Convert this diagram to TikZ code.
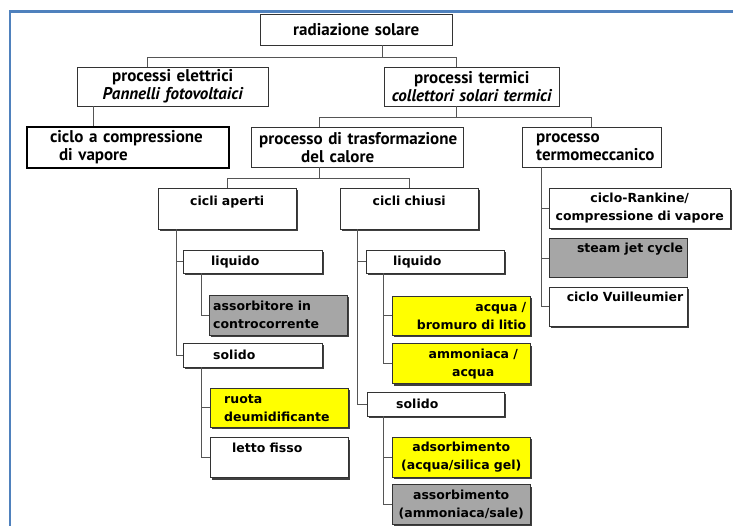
\documentclass[tikz,border=0pt]{standalone}
\usepackage{fontspec}
\setmainfont{DejaVu Sans}
\newfontfamily\headfont{PT Sans}
\usetikzlibrary{positioning}
\usetikzlibrary{shadows}

\definecolor{rulecol}{HTML}{4F81BD}
\definecolor{linkcol}{HTML}{555555}
\definecolor{boxgrey}{HTML}{A6A6A6}
\definecolor{boxyellow}{HTML}{FFFF00}

\tikzset {
  link/.style = {
    draw = linkcol,
    line width = 0.9pt
  },
  % blue frame of the slide
  bluerule/.style = {
    draw = rulecol,
    line width = 2.5pt
  }
}
\tikzset {
  box/.style = {
    draw = black!80,
    fill = white,
    rectangle,
    inner xsep = 4pt,
    inner ysep = 2pt,
    anchor = north west
  },
  % upper levels
  head/.style = {
    box,
    font = \headfont\bfseries\fontsize{17}{18}\selectfont
  },
  % lower levels, no shadow
  plainleaf/.style = {
    box,
    font = \bfseries\fontsize{12.5}{18}\selectfont
  },
  % lower levels, hard shadow
  leaf/.style = {
    plainleaf,
    general shadow = {fill = black!75, shadow xshift = 2pt, shadow yshift = -2pt}
  },
  greyfill/.style = {
    fill = boxgrey
  },
  yellowfill/.style = {
    fill = boxyellow
  },
  % text sitting at the top of a tall box
  toptext/.style 2 args = {
    text height = #1,
    text depth = #2
  }
}

\begin{document}
\begin{tikzpicture}[x = 1pt, y = -1pt]
  \useasboundingbox (0,0) rectangle (733,526);

  \draw[bluerule] (10,526) -- (10,11.5) -- (733,11.5);

  \node[head, text width = 184pt, align = center, minimum height = 31pt] (rad) at (260,14) {radiazione solare};

  \node[head, text width = 183pt, align = center, minimum height = 39pt] (elet) at (77,67)
    {processi elettrici\\\itshape Pannelli fotovoltaici};
  \node[head, text width = 167pt, align = center, minimum height = 39pt] (term) at (384,67)
    {processi termici\\\itshape collettori solari termici};

  \node[head, draw = black, line width = 2pt, text width = 194pt, align = left, minimum height = 41pt] (vapore) at (26,126)
    {\hspace*{19pt}ciclo a compressione\\\hspace*{28pt}di vapore};
  \node[head, text width = 204pt, align = left, minimum height = 40pt] (trasf) at (251,127)
    {\hspace*{4pt}processo di trasformazione\\\hspace*{46pt}del calore};
  \node[head, text width = 131pt, align = left, minimum height = 40pt] (mecc) at (522,127)
    {\hspace*{10pt}processo\\\hspace*{10pt}termomeccanico};

  % open cycles
  \node[leaf, text width = 130pt, align = center, toptext = {15pt}{22pt}] (aperti) at (158,188) {cicli aperti};
  \node[leaf, text width = 131pt, align = left, minimum height = 23pt] (liqA) at (183,250) {\hspace*{24pt}liquido};
  \node[leaf, greyfill, text width = 130pt, align = left, minimum height = 40pt] (contro) at (209,295)
    {assorbitore in\\controcorrente};
  \node[leaf, text width = 131pt, align = left, minimum height = 24pt] (solA) at (183,343) {\hspace*{26pt}solido};
  \node[leaf, yellowfill, text width = 130pt, align = left, minimum height = 39pt] (ruota) at (210,388)
    {\hspace*{10pt}ruota\\\hspace*{10pt}deumidificante};
  \node[leaf, text width = 130pt, align = left, toptext = {13pt}{23pt}] (letto)
    [below = 10pt of ruota.south west, anchor = north west] {\hspace*{18pt}letto fisso};

  % closed cycles
  \node[leaf, text width = 130pt, align = center, toptext = {15pt}{22pt}] (chiusi) at (340,188) {cicli chiusi};
  \node[leaf, text width = 130pt, align = left, minimum height = 23pt] (liqC) at (366,250) {\hspace*{23pt}liquido};
  \node[leaf, yellowfill, text width = 130pt, align = right, minimum height = 39pt] (bromuro) at (392,296)
    {acqua /\hspace*{5pt}\\bromuro di litio};
  \node[leaf, yellowfill, text width = 130pt, align = center, minimum height = 40pt] (ammon)
    [below = 8pt of bromuro.south west, anchor = north west] {\hspace*{24pt}ammoniaca /\\\hspace*{24pt}acqua};
  \node[leaf, text width = 129pt, align = left, minimum height = 24pt] (solC) at (367,392) {\hspace*{25pt}solido};
  \node[leaf, yellowfill, text width = 130pt, align = center, minimum height = 40pt] (silica) at (392,437)
    {adsorbimento\\(acqua/silica gel)};
  \node[leaf, greyfill, text width = 130pt, align = center, minimum height = 40pt] (sale)
    [below = 7pt of silica.south west, anchor = north west] {assorbimento\\(ammoniaca/sale)};

  % thermomechanical
  \node[leaf, text width = 173pt, align = center, minimum height = 40pt] (rankine) at (549,188)
    {ciclo-Rankine/\\compressione di vapore};
  \node[plainleaf, greyfill, text width = 130pt, align = right, toptext = {12pt}{23pt}] (steam)
    [below = 10pt of rankine.south west, anchor = north west] {steam jet cycle};
  \node[leaf, text width = 130pt, align = right, toptext = {13pt}{22pt}] (vuill)
    [below = 9pt of steam.south west, anchor = north west] {ciclo Vuilleumier};

  % forks
  \draw[link] ([xshift = 26pt]rad.south) -- ++(0,12) coordinate (rad-fork);
  \draw[link] ([xshift = -25pt]elet.north) |- (rad-fork) -| ([xshift = -15pt]term.north);

  \draw[link] ([xshift = -15pt]term.south) -- ++(0,11) coordinate (term-fork);
  \draw[link] ([xshift = -38pt]trasf.north) |- (term-fork) -| (mecc.north);

  \draw[link] ([xshift = -38pt]trasf.south) -- ++(0,11) coordinate (trasf-fork);
  \draw[link] (aperti.north) |- (trasf-fork) -| (chiusi.north);

  % side rails
  \draw[link] ([xshift = 16pt]elet.south west) coordinate (elet-rail)
    -- (elet-rail |- vapore.north);

  \draw[link] ([xshift = 18pt]aperti.south west) coordinate (aperti-rail)
    |- (liqA.west)
    (aperti-rail) |- (solA.west);
  \draw[link] ([xshift = 18pt]liqA.south west) coordinate (liqA-rail)
    |- (contro.west);
  \draw[link] ([xshift = 18pt]solA.south west) coordinate (solA-rail)
    |- (ruota.west)
    (solA-rail) |- (letto.west);

  \draw[link] ([xshift = 17pt]chiusi.south west) coordinate (chiusi-rail)
    |- (liqC.west)
    (chiusi-rail) |- (solC.west);
  \draw[link] ([xshift = 17pt]liqC.south west) coordinate (liqC-rail)
    |- (bromuro.west)
    (liqC-rail) |- (ammon.west);
  \draw[link] ([xshift = 16pt]solC.south west) coordinate (solC-rail)
    |- (silica.west)
    (solC-rail) |- (sale.west);

  \draw[link] ([xshift = 19pt]mecc.south west) coordinate (mecc-rail)
    |- (rankine.west)
    (mecc-rail) |- (steam.west)
    (mecc-rail) |- (vuill.west);
\end{tikzpicture}
\end{document}
